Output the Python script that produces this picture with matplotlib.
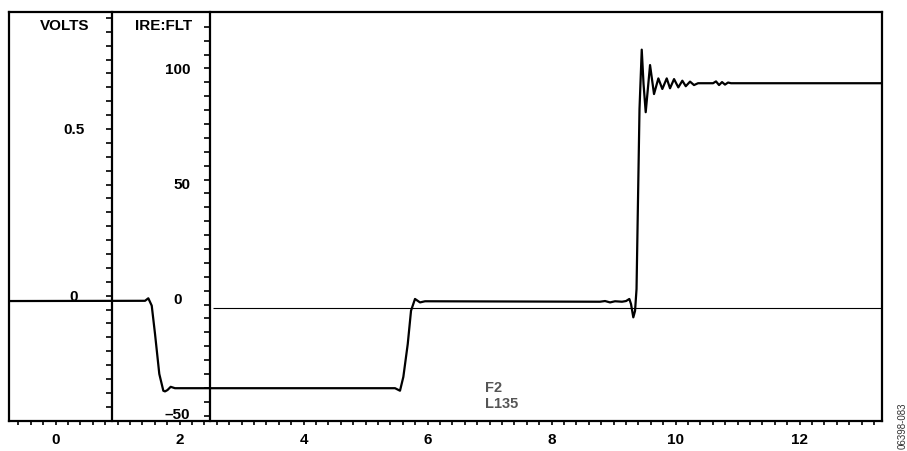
import numpy as np
import matplotlib.pyplot as plt
from matplotlib.ticker import MultipleLocator

plt.rcParams['font.family'] = ['Liberation Sans', 'DejaVu Sans']

# scope trace: time (x) vs IRE (y)
t = [-0.75, 1.444, 1.497, 1.552, 1.605, 1.674, 1.739, 1.766, 1.806, 1.858, 1.927,
     5.476, 5.556, 5.61, 5.681, 5.734, 5.798, 5.879, 5.96,
     8.782, 8.863, 8.944, 9.024, 9.137, 9.202, 9.255, 9.282, 9.319, 9.347,
     9.371, 9.395, 9.419, 9.455, 9.484, 9.519, 9.589, 9.653, 9.723, 9.787,
     9.858, 9.911, 9.976, 10.045, 10.11, 10.165, 10.234, 10.298, 10.363,
     10.605, 10.653, 10.702, 10.75, 10.798, 10.847, 10.895, 13.33]
ire = [-1.1, -1.0, 0.1, -3.1, -15.4, -32.8, -40.1, -40.4, -39.8, -38.4, -39.0,
       -39.0, -40.1, -34.1, -19.8, -5.3, -0.2, -1.7, -1.2,
       -1.4, -1.1, -1.7, -1.2, -1.4, -1.1, -0.2, -2.4, -8.2, -5.4,
       4.1, 43.3, 82.4, 108.2, 93.3, 81.0, 101.5, 88.9, 95.7, 91.1,
       95.7, 91.4, 95.4, 91.8, 94.7, 92.3, 94.3, 92.8, 93.6,
       93.6, 94.4, 92.8, 94.1, 93.0, 93.9, 93.6, 93.6]

# reference level line
ref_level = -4.1
ref_start = 2.54

x_ticks = [0, 2, 4, 6, 8, 10, 12]
volt_ticks = [0.5, 0]
volt_labels = ['0.5', '0']
ire_ticks = [100, 50, 0, -50]
ire_labels = ['100', '50', '0', '–50']

W, H = 907, 452
fig = plt.figure(figsize=(W / 100, H / 100), dpi=100)


def box(x0, y0, x1, y1):
    # pixel box (top-left origin) -> figure fraction rect
    return [x0 / W, 1 - y1 / H, (x1 - x0) / W, (y1 - y0) / H]


ax = fig.add_axes(box(9, 13, 882, 422))
ax.set_xlim(-0.75, 13.33)
ax.set_ylim(-53.26, 124.57)
ax.plot(t, ire, color='black', lw=1.6, solid_joinstyle='round')
ax.hlines(ref_level, ref_start, 13.33, color='black', lw=0.8)

for s in ax.spines.values():
    s.set_linewidth(1.6)
ax.set_yticks([])
ax.set_xticks(x_ticks)
ax.set_xticklabels([str(v) for v in x_ticks], fontsize=11, fontweight='bold')
ax.xaxis.set_minor_locator(MultipleLocator(0.2))
ax.tick_params(axis='x', which='both', direction='out', length=3, width=1.2, pad=5)

ax.text(0.153, 118.9, 'VOLTS', ha='center', va='center', fontsize=11, fontweight='bold')
ax.text(1.75, 118.9, 'IRE:FLT', ha='center', va='center', fontsize=11, fontweight='bold')
ax.text(6.927, -38.5, 'F2', ha='left', va='center', fontsize=10.5, fontweight='bold', color='#555555')
ax.text(6.927, -45.4, 'L135', ha='left', va='center', fontsize=10.5, fontweight='bold', color='#555555')

# VOLTS divider
axv = fig.add_axes(box(9, 13, 112, 422))
axv.patch.set_alpha(0)
axv.set_ylim(-0.3758, 0.851)
for k, s in axv.spines.items():
    s.set_visible(k == 'right')
    s.set_linewidth(1.6)
axv.set_xticks([])
axv.yaxis.tick_right()
axv.set_yticks(np.arange(-9, 21) * 0.5 / 12)
axv.set_yticklabels([])
axv.tick_params(axis='y', direction='in', length=4, width=1.2)
for v, lab in zip(volt_ticks, volt_labels):
    axv.text(0.631, v, lab, transform=axv.get_yaxis_transform(),
             ha='center', va='center', fontsize=11, fontweight='bold')

# IRE divider
axi = fig.add_axes(box(112, 13, 210, 422))
axi.patch.set_alpha(0)
axi.set_ylim(-53.26, 124.57)
for k, s in axi.spines.items():
    s.set_visible(k == 'right')
    s.set_linewidth(1.6)
axi.set_xticks([])
axi.yaxis.tick_right()
axi.set_yticks(3.39 + np.arange(-9, 20) * 6.04)
axi.set_yticklabels([])
axi.tick_params(axis='y', direction='in', length=4, width=1.2)
for v, lab in zip(ire_ticks, ire_labels):
    if lab == '0':
        axi.text(0.673, v, lab, transform=axi.get_yaxis_transform(),
                 ha='center', va='center', fontsize=11, fontweight='bold')
    else:
        axi.text(0.796, v, lab, transform=axi.get_yaxis_transform(),
                 ha='right', va='center', fontsize=11, fontweight='bold')

fig.text(903 / W, 1 - 426 / H, '06398-083', rotation=90, ha='center', va='center',
         fontsize=7, color='#333333')

fig.savefig('out.png', dpi=100)
